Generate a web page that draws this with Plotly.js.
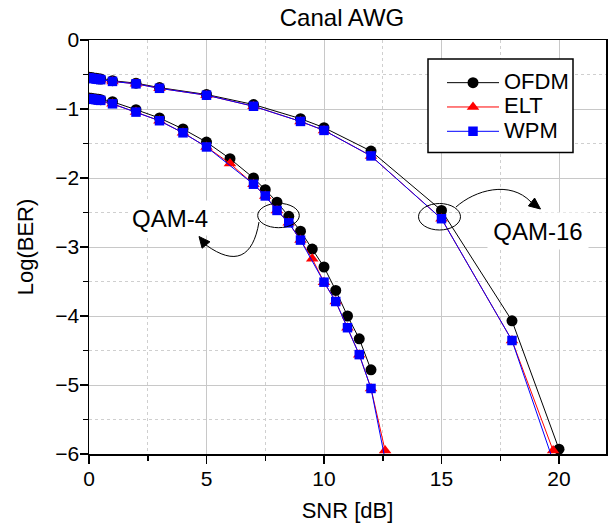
<!DOCTYPE html>
<html>
<head>
<meta charset="utf-8">
<script src="https://cdn.plot.ly/plotly-3.0.1.min.js"></script>
<style>html,body{margin:0;padding:0;background:#fff;}#chart{width:610px;height:527px;}</style>
</head>
<body>
<div id="chart"></div>
<script>
// ---- Data ----
// QAM-16 group
const snr16Ofdm = [0, 0.1, 0.2, 0.3, 0.4, 0.5, 1, 2, 3, 5, 7, 9, 10, 12, 15, 18, 20];
const ber16Ofdm = [-0.54, -0.545, -0.55, -0.555, -0.56, -0.565, -0.59, -0.625, -0.69, -0.79, -0.935, -1.14, -1.27, -1.61, -2.47, -4.07, -5.93];
const snr16Elt  = [0, 0.1, 0.2, 0.3, 0.4, 0.5, 1, 2, 3, 5, 7, 9, 10, 12, 15, 18, 19.75];
const ber16Elt  = [-0.55, -0.555, -0.56, -0.565, -0.57, -0.575, -0.6, -0.635, -0.7, -0.8, -0.96, -1.18, -1.31, -1.68, -2.59, -4.355, -5.95];
const snr16Wpm  = [0, 0.1, 0.2, 0.3, 0.4, 0.5, 1, 2, 3, 5, 7, 9, 10, 12, 15, 18, 19.9];
const ber16Wpm  = [-0.55, -0.555, -0.56, -0.565, -0.57, -0.575, -0.6, -0.635, -0.7, -0.8, -0.96, -1.18, -1.31, -1.68, -2.59, -4.355, -6.25];
// QAM-4 group
const snr4Ofdm = [0, 0.1, 0.2, 0.3, 0.4, 0.5, 1, 2, 3, 4, 5, 6, 7, 7.5, 8, 8.5, 9, 9.5, 10, 10.5, 11, 11.5, 12];
const ber4Ofdm = [-0.84, -0.845, -0.85, -0.855, -0.86, -0.865, -0.895, -1.01, -1.13, -1.29, -1.48, -1.72, -2.0, -2.17, -2.35, -2.555, -2.77, -3.03, -3.29, -3.63, -4.0, -4.33, -4.78];
const snr4Elt  = [0, 0.1, 0.2, 0.3, 0.4, 0.5, 1, 2, 3, 4, 5, 6, 7, 7.5, 8, 8.5, 9, 9.5, 10, 10.5, 11, 11.5, 12, 12.6];
const ber4Elt  = [-0.85, -0.855, -0.86, -0.865, -0.87, -0.875, -0.925, -1.045, -1.17, -1.345, -1.55, -1.79, -2.09, -2.26, -2.47, -2.65, -2.9, -3.17, -3.51, -3.79, -4.17, -4.56, -5.05, -5.95];
const snr4Wpm  = [0, 0.1, 0.2, 0.3, 0.4, 0.5, 1, 2, 3, 4, 5, 7, 7.5, 8, 8.5, 9, 10, 10.5, 11, 11.5, 12, 12.7];
const ber4Wpm  = [-0.85, -0.855, -0.86, -0.865, -0.87, -0.875, -0.925, -1.045, -1.17, -1.345, -1.55, -2.09, -2.26, -2.47, -2.65, -2.9, -3.51, -3.79, -4.17, -4.56, -5.05, -6.25];

const seriesNames = ['OFDM', 'ELT', 'WPM'];
const xTitle = 'SNR [dB]';
const yTitle = 'Log(BER)';
const chartTitle = 'Canal AWG';
const groupLabels = ['QAM-4', 'QAM-16'];

// ---- Geometry helpers (pixel -> axis units, for annotation drawings) ----
const W = 610, H = 527;
const L = 89, R = 606, T = 40, B = 454;
const XR = [0, 22], YR = [-6, 0];
const px2x = p => XR[0] + (p - L) / (R - L) * (XR[1] - XR[0]);
const px2y = p => YR[1] - (p - T) / (B - T) * (YR[1] - YR[0]);
const px2px = p => (p - L) / (R - L);   // paper x
const px2py = p => (B - p) / (B - T);   // paper y
function pathPx(cmds) {
  return cmds.map(c => c[0] + c.slice(1).reduce((acc, v, i, a) => {
    if (i % 2 === 0) acc.push(px2x(v).toFixed(4) + ',' + px2y(a[i + 1]).toFixed(4));
    return acc;
  }, []).join(' ')).join(' ');
}

const FONT = '"Liberation Sans", Arial, Helvetica, sans-serif';
const styles = {
  OFDM: {line: {color: '#000000', width: 1}, marker: {symbol: 'circle', size: 11, color: '#000000'}},
  ELT:  {line: {color: '#ff0000', width: 1}, marker: {symbol: 'triangle-up', size: 11, color: '#ff0000'}},
  WPM:  {line: {color: '#0000ff', width: 1}, marker: {symbol: 'square', size: 9.5, color: '#0000ff'}}
};
function tr(x, y, name, show) {
  return Object.assign({x: x, y: y,
    name: '<span style="font-size:22px">' + name + '</span>',
    legendgroup: name, showlegend: show,
    type: 'scatter', mode: 'lines+markers', cliponaxis: true}, styles[name]);
}
const data = [
  tr(snr16Ofdm, ber16Ofdm, seriesNames[0], true),
  tr(snr16Elt, ber16Elt, seriesNames[1], true),
  tr(snr16Wpm, ber16Wpm, seriesNames[2], true),
  tr(snr4Ofdm, ber4Ofdm, seriesNames[0], false),
  tr(snr4Elt, ber4Elt, seriesNames[1], false),
  tr(snr4Wpm, ber4Wpm, seriesNames[2], false)
];

const axisCommon = {
  showline: true, linecolor: '#000', linewidth: 1.5, mirror: true,
  ticks: 'outside', ticklen: 8, tickwidth: 1.5, tickcolor: '#000',
  showgrid: true, gridcolor: '#c8c8c8', gridwidth: 1, zeroline: false,
  tickfont: {family: FONT, size: 21, color: '#000'},
  fixedrange: true
};

const shapes = [
  // legend frame
  {type: 'rect', xref: 'paper', yref: 'paper', x0: px2px(428), x1: px2px(573), y0: px2py(152.5), y1: px2py(59),
   line: {color: '#000', width: 1.5}, fillcolor: '#fff', layer: 'above'},
  // ellipses
  {type: 'circle', xref: 'x', yref: 'y', x0: px2x(257.7), x1: px2x(299.3), y0: px2y(227.7), y1: px2y(203.3),
   line: {color: '#000', width: 1}, layer: 'above'},
  {type: 'circle', xref: 'x', yref: 'y', x0: px2x(418.5), x1: px2x(460.5), y0: px2y(230), y1: px2y(203.5),
   line: {color: '#000', width: 1}, layer: 'above'},
  // curved arrows
  {type: 'path', xref: 'x', yref: 'y', path: pathPx([['M', 259, 222], ['C', 253, 258, 235, 266, 206, 245]]),
   line: {color: '#000', width: 1}, layer: 'above'},
  {type: 'path', xref: 'x', yref: 'y', path: pathPx([['M', 199, 236.5], ['L', 209.9, 241.8], ['L', 202.1, 248.2], ['Z']]),
   line: {color: '#000', width: 1}, fillcolor: '#000', layer: 'above'},
  {type: 'path', xref: 'x', yref: 'y', path: pathPx([['M', 456, 207], ['C', 475, 190, 510, 180, 531, 202]]),
   line: {color: '#000', width: 1}, layer: 'above'},
  {type: 'path', xref: 'x', yref: 'y', path: pathPx([['M', 540.5, 209], ['L', 528.4, 205.9], ['L', 534.6, 198.05], ['Z']]),
   line: {color: '#000', width: 1}, fillcolor: '#000', layer: 'above'}
];

const annotations = [
  {xref: 'x', yref: 'y', x: px2x(169.5), y: px2y(217.5), text: groupLabels[0], showarrow: false,
   font: {family: FONT, size: 24, color: '#000'}, bgcolor: '#ffffff', width: 82, height: 34, borderpad: 0},
  {xref: 'x', yref: 'y', x: px2x(538), y: px2y(231), text: groupLabels[1], showarrow: false,
   font: {family: FONT, size: 24, color: '#000'}, bgcolor: '#ffffff', width: 100, height: 36, borderpad: 0}
];

const layout = {
  width: W, height: H,
  margin: {l: L, r: W - R, t: T, b: H - B, pad: 0},
  paper_bgcolor: '#fff', plot_bgcolor: '#fff',
  font: {family: FONT, color: '#000'},
  title: {text: chartTitle, font: {family: FONT, size: 24, color: '#000'},
          xref: 'container', yref: 'container', x: 342 / W, xanchor: 'center', y: 1 - 18 / H, yanchor: 'middle'},
  xaxis: Object.assign({}, axisCommon, {
    range: XR, tick0: 0, dtick: 5, ticklabelstandoff: -3,
    minor: {dtick: 2.5, ticks: 'outside', ticklen: 5, tickwidth: 1.5, tickcolor: '#000',
            showgrid: true, gridcolor: '#cfcfcf', griddash: 'dot', gridwidth: 1},
    title: {text: xTitle, font: {family: FONT, size: 22, color: '#000'}, standoff: 14}
  }),
  yaxis: Object.assign({}, axisCommon, {
    range: YR, tick0: 0, dtick: 1, ticklabelstandoff: -4,
    minor: {dtick: 0.5, ticks: 'outside', ticklen: 5, tickwidth: 1.5, tickcolor: '#000',
            showgrid: true, gridcolor: '#cfcfcf', griddash: 'dot', gridwidth: 1},
    title: {text: yTitle, font: {family: FONT, size: 22, color: '#000'}, standoff: 15}
  }),
  showlegend: true,
  legend: {x: px2px(442), y: px2py(65.5), xanchor: 'left', yanchor: 'top',
           bgcolor: 'rgba(0,0,0,0)', borderwidth: 0,
           font: {family: FONT, size: 16.4, color: '#000'}, itemwidth: 52, tracegroupgap: 0},
  shapes: shapes,
  annotations: annotations
};

Plotly.newPlot('chart', data, layout, {displayModeBar: false, staticPlot: true});
</script>
</body>
</html>
